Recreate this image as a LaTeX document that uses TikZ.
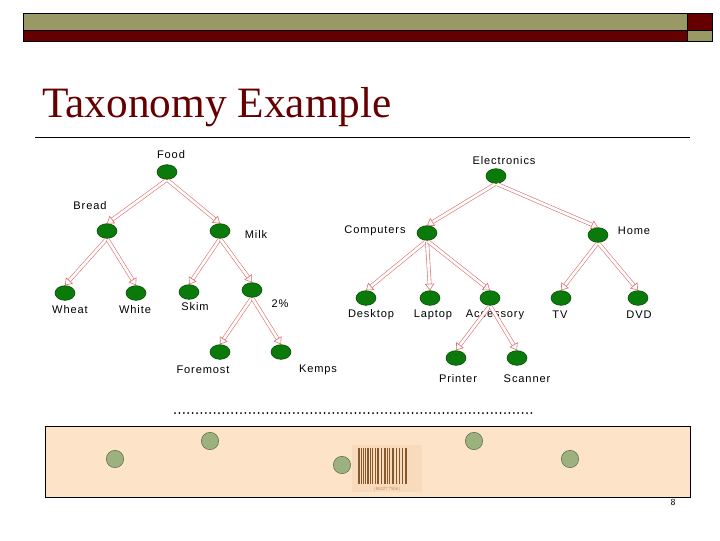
\documentclass[tikz,border=0pt]{standalone}
\usepackage{fontspec}
\setmainfont{Liberation Serif}
\newfontfamily\lab[LetterSpace=8]{Liberation Sans}
\usetikzlibrary{arrows.meta,shapes.geometric}
\definecolor{olive}{HTML}{999966}
\definecolor{dred}{HTML}{660000}
\definecolor{ngreen}{HTML}{0A7A0A}
\definecolor{peach}{HTML}{FDE3C8}
\definecolor{sage}{HTML}{9CB27E}
\definecolor{pk}{HTML}{E07070}
\tikzset{
 tn/.style={ellipse,fill=ngreen,draw=ngreen!60!black,minimum width=15pt,minimum height=11pt,inner sep=0pt},
 tl/.style={font=\lab\fontsize{8.3}{9}\selectfont,inner sep=0pt},
 ar/.style={draw=pk,double=white,double distance=2pt,line width=0.45pt,-{Triangle[open,length=5pt,width=7pt]},shorten <=1pt},
 sc/.style={circle,fill=sage,draw=sage!60!black,minimum size=13pt,inner sep=0pt}
}
\begin{document}
\begin{tikzpicture}[x=0.75pt,y=-0.75pt]
\useasboundingbox (0,0) rectangle (720,540);
\fill[white] (0,0) rectangle (720,540);
% header bars
\draw[fill=olive] (23,13) rectangle (687,30);
\draw[fill=dred] (23,30) rectangle (687,41);
\draw[fill=dred] (687,13) rectangle (712,30);
\draw[fill=olive] (687,30) rectangle (712,41);
\node[anchor=base west,inner sep=0pt,font=\fontsize{32.5}{34}\selectfont,text=dred] (title) at (42,117) {Taxonomy Example};
\draw[line width=0.5pt] (35,137) -- (690,137);
% food tree
\node[tn] (food) at (167,172) {}; \node[tl] (lfood) at (171,155) {Food};
\node[tn] (bread) at (107,231) {}; \node[tl] (lbread) at (90,206) {Bread};
\node[tn] (milk) at (220,231) {}; \node[tl] (lmilk) at (256,234) {Milk};
\node[tn] (wheat) at (65,293) {}; \node[tl] (lwheat) at (70,310) {Wheat};
\node[tn] (white) at (136,293) {}; \node[tl] (lwhite) at (135,310) {White};
\node[tn] (skim) at (189,292) {}; \node[tl] (lskim) at (195,307) {Skim};
\node[tn] (two) at (252,290) {}; \node[tl] (ltwo) at (280,304) {2\%};
\node[tn] (fore) at (220,352) {}; \node[tl] (lfore) at (203,370) {Foremost};
\node[tn] (kemps) at (281,352) {}; \node[tl] (lkemps) at (318,370) {Kemps};
% electronics tree
\node[tn] (elec) at (496,176) {}; \node[tl] (lelec) at (504,161) {Electronics};
\node[tn] (comp) at (427,233) {}; \node[tl] (lcomp) at (375,231) {Computers};
\node[tn] (home) at (598,235) {}; \node[tl] (lhome) at (634,231) {Home};
\node[tn] (desk) at (366,298) {}; \node[tl] (ldesk) at (371,315) {Desktop};
\node[tn] (lap) at (430,298) {}; \node[tl] (llap) at (433,315) {Laptop};
\node[tn] (acc) at (490,298) {}; \node[tl] (lacc) at (495,315) {Accessory};
\node[tn] (tv) at (561,298) {}; \node[tl] (ltv) at (560,315) {TV};
\node[tn] (dvd) at (638,298) {}; \node[tl] (ldvd) at (639,315) {DVD};
\node[tn] (print) at (456,358) {}; \node[tl] (lprint) at (458,379) {Printer};
\node[tn] (scan) at (517,358) {}; \node[tl] (lscan) at (527,379) {Scanner};
\foreach \a/\b in {food/bread,food/milk,bread/wheat,bread/white,milk/skim,milk/two,two/fore,two/kemps,
 elec/comp,elec/home,comp/desk,comp/lap,comp/acc,home/tv,home/dvd,acc/print,acc/scan}
 \draw[ar] (\a.south) -- (\b.north);
% dotted line
\draw[line width=1.5pt,line cap=round,dash pattern=on 0pt off 3.3pt] (175,413) -- (532,413);
% bottom box
\node[draw,fill=peach,line width=0.6pt,minimum width=645*0.75pt,minimum height=71*0.75pt,inner sep=0pt,anchor=north west] (box) at (45,426) {};
\node[sc] (c1) at (115,459) {};
\node[sc] (c2) at (210,441) {};
\node[sc] (c3) at (342,465) {};
\node[sc] (c4) at (474,441) {};
\node[sc] (c5) at (570,459) {};
\fill[peach!92!brown] (352,445) rectangle (422,492);
\foreach \x/\w in {358/1.5,361/0.7,363/1,365/0.6,367/1.8,370/0.7,372/1,375/0.6,377/2,381/0.7,384/1.5,387/0.7,389/0.6,392/2,396/0.7,399/1,402/0.6,405/1.8}
 \fill[brown!70!black] (\x,448) rectangle ++(\w,36);
\node[font=\fontsize{3.5}{4}\selectfont,text=brown] (bc) at (387,489) {\textbar\ 86227 7506 \textbar};
\node[font=\fontsize{7}{8}\selectfont\sffamily,inner sep=0pt] (pg) at (673,502) {8};
\end{tikzpicture}
\end{document}
